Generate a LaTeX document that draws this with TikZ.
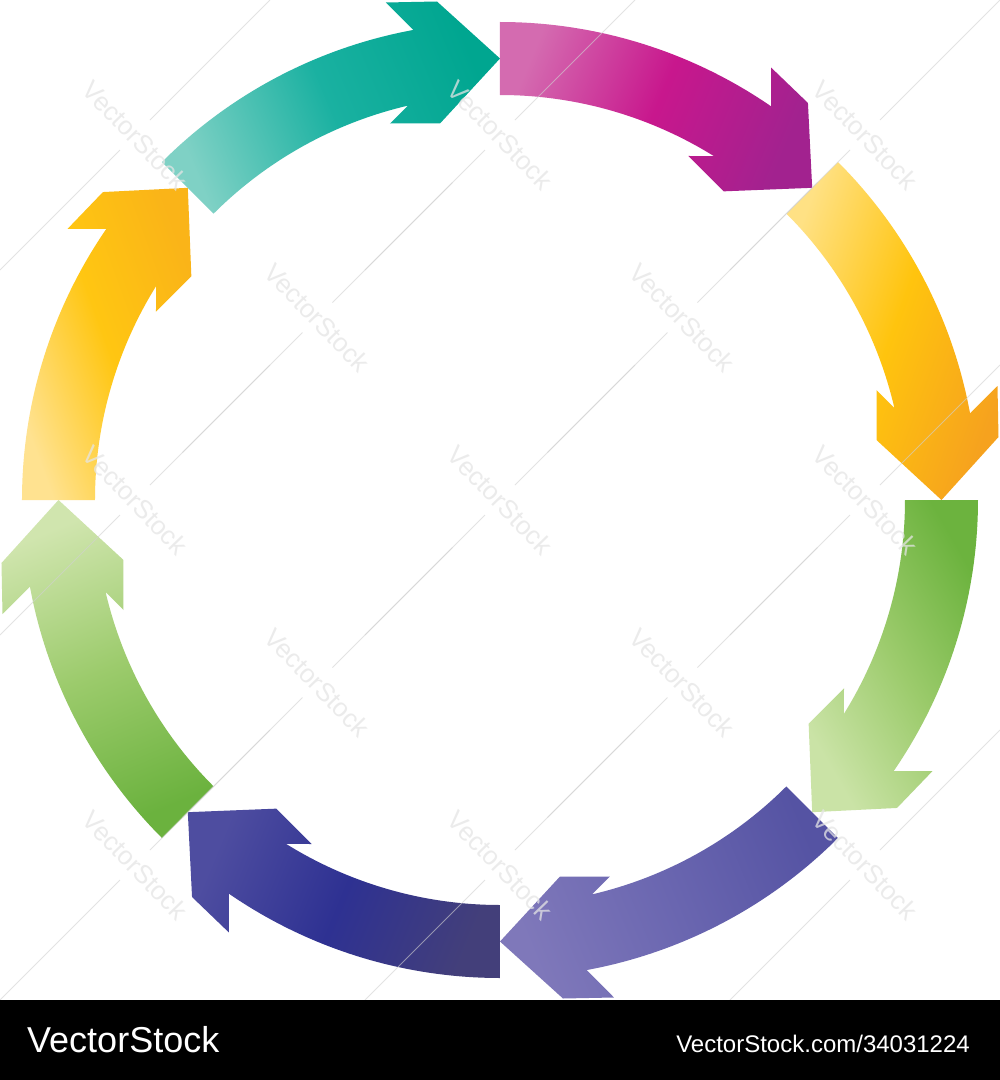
\documentclass[tikz,border=0pt]{standalone}
\usepackage{fontspec}
\setmainfont{Liberation Sans}
\definecolor{mgA}{HTML}{D46BB0}\definecolor{mgB}{HTML}{C8178D}\definecolor{mgC}{HTML}{A2228F}
\definecolor{yrA}{HTML}{FFE184}\definecolor{yrB}{HTML}{FFC40E}\definecolor{yrC}{HTML}{F6A21E}
\definecolor{grA}{HTML}{CAE3A6}\definecolor{grB}{HTML}{9CCB6C}\definecolor{grC}{HTML}{6CB33E}
\definecolor{lvA}{HTML}{7F78BA}\definecolor{lvB}{HTML}{6A66B0}\definecolor{lvC}{HTML}{5553A3}
\definecolor{nvA}{HTML}{4E4DA0}\definecolor{nvB}{HTML}{2E3192}\definecolor{nvC}{HTML}{433F7A}
\definecolor{glA}{HTML}{D0E5AE}\definecolor{glB}{HTML}{9CCB6C}\definecolor{glC}{HTML}{6BB23E}
\definecolor{ylA}{HTML}{FFE290}\definecolor{ylB}{HTML}{FFC612}\definecolor{ylC}{HTML}{FAB418}
\definecolor{tlA}{HTML}{7FD1C5}\definecolor{tlB}{HTML}{1AB1A1}\definecolor{tlC}{HTML}{00A690}
\newcommand{\arrowshape}[1]{({135+#1}:478) arc[start angle={135+#1}, end angle={100.45+#1}, radius=478] -- ([rotate=#1]-114,497.5) -- ([rotate=#1]-63,498.5) -- ([rotate=#1]0,441.5) -- ([rotate=#1]-60,376.5) -- ([rotate=#1]-110,376.5) -- ({103.11+#1}:405) arc[start angle={103.11+#1}, end angle={135+#1}, radius=405] -- cycle}
\tikzset{
  wmline/.style={draw=black!18, line width=0.8pt, opacity=0.6},
  wmtext/.style={font=\fontsize{26}{26}\selectfont, rotate=-46, inner sep=0pt, text=black!10, opacity=0.75},
  bartext/.style={text=white, inner sep=0pt}
}
\begin{document}
\begin{tikzpicture}[x=1pt,y=1pt]
\useasboundingbox (-500,-580) rectangle (500,500);
\clip (-500,-580) rectangle (500,500);
\fill[white] (-500,-580) rectangle (500,500);
% arrows (clockwise, tips at 45,0,-45,...)
\shade[left color=mgA, right color=mgC, middle color=mgB, shading angle=67.5] \arrowshape{-45};
\shade[left color=yrA, right color=yrC, middle color=yrB, shading angle=70] \arrowshape{-90};
\shade[left color=grA, right color=grC, middle color=grB, shading angle=120] \arrowshape{-135};
\shade[left color=lvA, right color=lvC, middle color=lvB, shading angle=112.5] \arrowshape{-180};
\shade[left color=nvA, right color=nvC, middle color=nvB, shading angle=67.5] \arrowshape{-225};
\shade[left color=glA, right color=glC, middle color=glB, shading angle=22.5] \arrowshape{-270};
\shade[left color=ylA, right color=ylC, middle color=ylB, shading angle=110] \arrowshape{45};
\shade[left color=tlA, right color=tlC, middle color=tlB, shading angle=112.5] \arrowshape{0};
% watermarks
\foreach \i/\j in {-2/-2,-2/0,-2/2,0/-2,0/0,0/2,2/-2,2/0,2/2,-1/-1,-1/1,1/-1,1/1}{
  \coordinate (wm) at (\i*182.5,\j*182.5);
  \path[wmline] ([shift={(15,15)}]wm) -- ([shift={(135,135)}]wm);
  \path[wmline] ([shift={(-15,-15)}]wm) -- ([shift={(-135,-135)}]wm);
  \node[wmtext] at (wm) {VectorStock};
}
% bottom bar
\fill[black] (-500,-580) rectangle (500,-500);
\node[bartext, anchor=base west, font=\fontsize{36}{36}\selectfont] (brand) at (-473,-552) {VectorStock};
\node[bartext, anchor=base east, font=\fontsize{24}{24}\selectfont] (url) at (470,-552) {VectorStock.com/34031224};
\end{tikzpicture}
\end{document}
